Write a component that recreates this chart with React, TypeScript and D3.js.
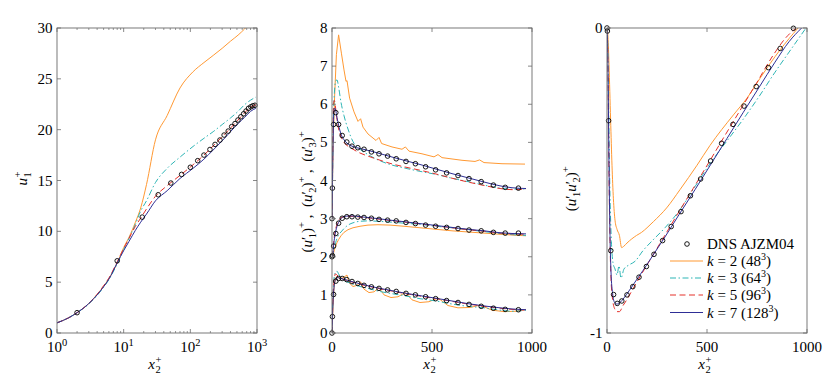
import React from 'react';
import * as d3 from 'd3';

const FONT = "'Liberation Serif', 'DejaVu Serif', serif";
const TOP = 28;
const BOTTOM = 333;

// DNS AJZM04, same wall distances in every panel
const dnsX = [0, 2, 8, 19, 33, 51, 74, 100, 129, 160, 197, 235, 278, 321, 370, 417, 468, 518, 573, 630, 685, 746, 807, 866, 932];
const dnsU = [0, 2.0, 7.1, 11.4, 13.6, 14.75, 15.6, 16.3, 16.95, 17.5, 18.05, 18.55, 18.98, 19.47, 19.86, 20.3, 20.6, 20.95, 21.27, 21.56, 21.83, 22.1, 22.25, 22.35, 22.4];
const dnsTop = [3.0, 3.8, 5.47, 5.78, 5.47, 5.18, 5.01, 4.9, 4.86, 4.82, 4.75, 4.7, 4.64, 4.57, 4.5, 4.44, 4.36, 4.28, 4.2, 4.13, 4.05, 3.97, 3.88, 3.82, 3.8];
const dnsMid = [2.0, 2.03, 2.28, 2.61, 2.88, 3.01, 3.05, 3.05, 3.04, 3.03, 3.01, 2.98, 2.96, 2.94, 2.9, 2.87, 2.83, 2.8, 2.77, 2.74, 2.7, 2.68, 2.64, 2.62, 2.62];
const dnsLow = [0, 0.43, 1.01, 1.36, 1.43, 1.43, 1.4, 1.35, 1.3, 1.25, 1.21, 1.17, 1.13, 1.09, 1.04, 1.0, 0.95, 0.9, 0.85, 0.8, 0.75, 0.7, 0.65, 0.62, 0.61];
const dnsUV = [0, -0.01, -0.304, -0.73, -0.874, -0.903, -0.895, -0.875, -0.848, -0.817, -0.782, -0.742, -0.697, -0.651, -0.602, -0.55, -0.495, -0.436, -0.378, -0.316, -0.256, -0.192, -0.13, -0.067, -0.001];

// LES mean velocity (log axis)
const meanX = [1, 1.5, 2, 3, 4, 5, 6, 8, 10, 12, 15, 18, 22, 30, 45, 70, 110, 160, 220, 300, 400, 520, 650, 800, 960];
const meanK2 = [1.0, 1.5, 2.0, 2.9, 3.8, 4.6, 5.35, 6.9, 8.4, 9.4, 10.9, 12.3, 14.6, 19.0, 21.4, 24.1, 25.7, 26.6, 27.3, 28.0, 28.7, 29.3, 29.9, 30.5, 31.0];
const meanK3 = [1.0, 1.5, 2.0, 2.85, 3.7, 4.5, 5.25, 6.8, 8.2, 9.3, 10.7, 12.0, 13.0, 14.8, 16.2, 17.3, 18.35, 19.15, 19.8, 20.5, 21.15, 21.8, 22.45, 22.9, 23.2];
const meanK5 = [1.0, 1.5, 2.0, 2.9, 3.8, 4.65, 5.4, 7.0, 8.3, 9.3, 10.5, 11.3, 12.2, 13.45, 14.5, 15.5, 16.55, 17.5, 18.4, 19.3, 20.15, 20.95, 21.65, 22.2, 22.45];
const meanK7 = [1.0, 1.5, 2.0, 2.9, 3.75, 4.55, 5.3, 6.9, 8.1, 9.0, 10.1, 10.9, 11.7, 13.0, 14.0, 15.2, 16.2, 17.1, 18.0, 18.9, 19.8, 20.6, 21.2, 21.8, 22.1];

// LES rms profiles (three stacked groups)
const rmsX = [0, 2, 5, 8, 12, 18, 25, 33, 45, 60, 80, 105, 140, 180, 230, 290, 360, 440, 520, 600, 680, 760, 840, 900, 970];
const topK3 = [3.0, 3.7, 5.0, 5.8, 6.3, 6.6, 6.64, 6.45, 6.05, 5.7, 5.35, 5.02, 4.82, 4.68, 4.54, 4.42, 4.33, 4.24, 4.16, 4.06, 3.97, 3.88, 3.8, 3.77, 3.78];
const topK5 = [3.0, 3.9, 5.3, 6.05, 6.1, 5.9, 5.6, 5.35, 5.15, 5.0, 4.9, 4.82, 4.72, 4.64, 4.55, 4.45, 4.36, 4.27, 4.17, 4.06, 3.96, 3.87, 3.79, 3.76, 3.78];
const topK7 = [3.0, 3.8, 4.9, 5.6, 5.9, 5.85, 5.65, 5.45, 5.22, 5.07, 4.96, 4.89, 4.84, 4.79, 4.72, 4.63, 4.53, 4.42, 4.3, 4.18, 4.07, 3.96, 3.86, 3.81, 3.79];
const midK2 = [2.0, 2.02, 2.05, 2.1, 2.18, 2.28, 2.37, 2.45, 2.55, 2.64, 2.71, 2.76, 2.8, 2.83, 2.84, 2.83, 2.8, 2.76, 2.72, 2.68, 2.65, 2.62, 2.59, 2.57, 2.55];
const midK3 = [2.0, 2.02, 2.08, 2.15, 2.25, 2.37, 2.48, 2.57, 2.65, 2.74, 2.83, 2.89, 2.93, 2.94, 2.93, 2.91, 2.88, 2.85, 2.8, 2.76, 2.71, 2.66, 2.61, 2.58, 2.56];
const midK5 = [2.0, 2.04, 2.15, 2.35, 2.55, 2.72, 2.85, 2.95, 3.02, 3.05, 3.06, 3.06, 3.04, 3.02, 2.99, 2.95, 2.91, 2.86, 2.81, 2.76, 2.71, 2.67, 2.62, 2.6, 2.59];
const midK7 = [2.0, 2.03, 2.12, 2.3, 2.47, 2.65, 2.8, 2.9, 3.0, 3.05, 3.07, 3.07, 3.05, 3.03, 3.0, 2.96, 2.92, 2.87, 2.82, 2.77, 2.72, 2.68, 2.63, 2.61, 2.6];
const lowK3 = [0, 0.4, 0.95, 1.3, 1.5, 1.6, 1.62, 1.55, 1.45, 1.38, 1.33, 1.28, 1.22, 1.17, 1.1, 1.04, 0.98, 0.9, 0.84, 0.76, 0.7, 0.66, 0.6, 0.57, 0.6];
const lowK5 = [0, 0.4, 0.95, 1.25, 1.45, 1.55, 1.52, 1.48, 1.44, 1.4, 1.37, 1.33, 1.28, 1.23, 1.17, 1.11, 1.04, 0.97, 0.9, 0.83, 0.76, 0.7, 0.65, 0.62, 0.6];
const lowK7 = [0, 0.35, 0.8, 1.05, 1.28, 1.4, 1.45, 1.45, 1.43, 1.41, 1.38, 1.34, 1.29, 1.24, 1.18, 1.12, 1.05, 0.98, 0.91, 0.84, 0.77, 0.71, 0.66, 0.63, 0.61];
// k=2 has kinks at element faces, so its own samples
const topK2X = [0, 5, 13, 22, 33, 47, 60, 70, 75, 88, 110, 130, 143, 155, 180, 220, 235, 248, 300, 350, 367, 385, 450, 510, 530, 550, 650, 715, 738, 760, 850, 965];
const topK2 = [3.0, 4.9, 6.2, 7.3, 7.82, 7.34, 6.9, 6.6, 6.62, 6.16, 5.8, 5.55, 5.62, 5.4, 5.22, 5.05, 5.13, 4.97, 4.88, 4.82, 4.88, 4.77, 4.7, 4.62, 4.68, 4.6, 4.53, 4.5, 4.54, 4.47, 4.44, 4.43];
const lowK2X = [0, 5, 10, 18, 25, 40, 55, 75, 85, 105, 125, 143, 160, 185, 210, 235, 260, 295, 330, 367, 400, 440, 485, 530, 580, 630, 690, 740, 800, 860, 920, 970];
const lowK2 = [0, 0.7, 1.2, 1.45, 1.48, 1.42, 1.45, 1.52, 1.32, 1.22, 1.25, 1.34, 1.15, 1.06, 1.08, 1.19, 1.0, 0.93, 0.95, 1.06, 0.87, 0.8, 0.82, 0.92, 0.72, 0.66, 0.67, 0.73, 0.6, 0.56, 0.57, 0.62];

// LES shear stress
const uvK2X = [0, 5, 10, 18, 25, 32, 40, 50, 62, 73, 85, 100, 148, 173, 200, 232, 298, 365, 450, 515, 632, 700, 765, 865, 955];
const uvK2 = [0, -0.03, -0.12, -0.3, -0.45, -0.56, -0.63, -0.66, -0.68, -0.72, -0.715, -0.705, -0.68, -0.67, -0.655, -0.635, -0.59, -0.53, -0.45, -0.385, -0.285, -0.23, -0.165, -0.072, 0];
const uvK3X = [0, 3, 6, 10, 15, 22, 30, 40, 50, 60, 70, 85, 110, 140, 180, 230, 290, 360, 440, 520, 600, 680, 760, 840, 920, 995];
const uvK3 = [0, -0.04, -0.15, -0.35, -0.55, -0.7, -0.77, -0.79, -0.81, -0.78, -0.82, -0.79, -0.777, -0.765, -0.73, -0.695, -0.655, -0.6, -0.52, -0.44, -0.37, -0.3, -0.225, -0.145, -0.07, 0];
const uvK5X = [0, 3, 6, 10, 15, 20, 28, 38, 50, 62, 80, 100, 130, 170, 220, 280, 350, 430, 510, 590, 670, 750, 830, 890, 945];
const uvK5 = [0, -0.06, -0.22, -0.48, -0.7, -0.82, -0.89, -0.92, -0.93, -0.93, -0.91, -0.89, -0.855, -0.81, -0.755, -0.69, -0.613, -0.527, -0.44, -0.352, -0.265, -0.178, -0.09, -0.035, 0];
const uvK7X = [0, 3, 6, 10, 15, 20, 28, 38, 50, 65, 85, 110, 140, 180, 230, 290, 360, 440, 520, 600, 680, 760, 840, 910, 973];
const uvK7 = [0, -0.05, -0.2, -0.45, -0.68, -0.8, -0.87, -0.9, -0.905, -0.9, -0.885, -0.862, -0.833, -0.795, -0.745, -0.685, -0.612, -0.53, -0.446, -0.362, -0.278, -0.195, -0.112, -0.045, 0];

const runs = [
  { k: '2', n: '48', color: '#FF9933', dash: undefined },
  { k: '3', n: '64', color: '#2DB5B5', dash: '6,2.5,1.5,2.5' },
  { k: '5', n: '96', color: '#E5302A', dash: '6,3.5' },
  { k: '7', n: '128', color: '#2E2E96', dash: undefined },
];

const xMean = d3.scaleLog().domain([1, 1000]).range([57, 257]);
const yMean = d3.scaleLinear().domain([0, 30]).range([BOTTOM, TOP]);
const xRms = d3.scaleLinear().domain([0, 1000]).range([332, 532]);
const yRms = d3.scaleLinear().domain([0, 8]).range([BOTTOM, TOP]);
const xUv = d3.scaleLinear().domain([0, 1000]).range([607, 807]);
const yUv = d3.scaleLinear().domain([-1, 0]).range([BOTTOM, TOP]);

function pathOf(xs: number[], ys: number[], sx: any, sy: any, curve: any = d3.curveMonotoneX) {
  return d3.line<number>()
    .x(i => sx(xs[i]))
    .y(i => sy(ys[i]))
    .curve(curve)(d3.range(xs.length)) || '';
}

const AX = '#6b6b6b';
const SMALL = 10.5;

function Axes({ sx, sy, xTicks, yTicks, xMinor = [], xFmt }: any) {
  const [x0, x1] = sx.range();
  const [y0, y1] = sy.range();
  return (
    <g>
      <rect x={x0} y={y1} width={x1 - x0} height={y0 - y1} fill="none" stroke={AX} strokeWidth={0.9} />
      {xMinor.map((t: number, i: number) => (
        <g key={'m' + i} stroke={AX} strokeWidth={0.7}>
          <line x1={sx(t)} x2={sx(t)} y1={y0} y2={y0 - 2} />
          <line x1={sx(t)} x2={sx(t)} y1={y1} y2={y1 + 2} />
        </g>
      ))}
      {xTicks.map((t: number, i: number) => (
        <g key={'x' + i}>
          <line x1={sx(t)} x2={sx(t)} y1={y0} y2={y0 - 4} stroke={AX} strokeWidth={0.8} />
          <line x1={sx(t)} x2={sx(t)} y1={y1} y2={y1 + 4} stroke={AX} strokeWidth={0.8} />
          {xFmt(t, sx(t))}
        </g>
      ))}
      {yTicks.map((t: number, i: number) => (
        <g key={'y' + i}>
          <line x1={x0} x2={x0 + 4} y1={sy(t)} y2={sy(t)} stroke={AX} strokeWidth={0.8} />
          <line x1={x1} x2={x1 - 4} y1={sy(t)} y2={sy(t)} stroke={AX} strokeWidth={0.8} />
          <text x={x0 - 4.5} y={sy(t)} dy="0.34em" textAnchor="end">{t}</text>
        </g>
      ))}
    </g>
  );
}

const plainX = (t: number, px: number) => (
  <text x={px} y={352} textAnchor="middle">{t}</text>
);
const logX = (t: number, px: number) => (
  <text x={px} y={352} textAnchor="middle">10<tspan dy={-6} fontSize={SMALL}>{Math.round(Math.log10(t))}</tspan></text>
);

// x2+ with the sub and superscript stacked
function XLabel({ cx }: { cx: number }) {
  return (
    <g>
      <text x={cx - 2} y={369} textAnchor="end" fontStyle="italic">x</text>
      <text x={cx - 1.5} y={363} fontSize={SMALL}>+</text>
      <text x={cx - 1.5} y={373} fontSize={SMALL}>2</text>
    </g>
  );
}

export default function App() {
  const meanSeries = [meanK2, meanK3, meanK5, meanK7];
  const rmsSeries = [
    [[topK2X, topK2], [rmsX, midK2], [lowK2X, lowK2]],
    [[rmsX, topK3], [rmsX, midK3], [rmsX, lowK3]],
    [[rmsX, topK5], [rmsX, midK5], [rmsX, lowK5]],
    [[rmsX, topK7], [rmsX, midK7], [rmsX, lowK7]],
  ];
  const uvSeries = [[uvK2X, uvK2], [uvK3X, uvK3], [uvK5X, uvK5], [uvK7X, uvK7]];

  const logMinor = xMean.ticks().filter(t => Math.abs(Math.log10(t) - Math.round(Math.log10(t))) > 1e-6);
  const legendY = [244, 261, 278, 295, 312.5];

  // "(u'_i)^+" pieces for the rotated labels; dy values always sum back to zero
  const primeTerm = (i: string, key: string) => [
    <tspan key={key + 'u'} fontStyle="italic">u</tspan>,
    <tspan key={key + 'p'}>′</tspan>,
    <tspan key={key + 's'} dx={-1.5} dy={4} fontSize={SMALL}>{i}</tspan>,
  ];

  return (
    <svg width={830} height={375} style={{ position: 'absolute', left: 0, top: 0, background: '#fff', fontFamily: FONT }}
      fontSize={15} fill="#000">
      <defs>
        <clipPath id="clipMean"><rect x={57} y={TOP} width={200} height={BOTTOM - TOP} /></clipPath>
        <clipPath id="clipRms"><rect x={332} y={TOP} width={200} height={BOTTOM - TOP} /></clipPath>
        <clipPath id="clipUv"><rect x={607} y={TOP} width={200} height={BOTTOM - TOP} /></clipPath>
      </defs>

      {/* mean velocity */}
      <g clipPath="url(#clipMean)" fill="none" strokeWidth={1}>
        {runs.map((r, j) => (
          <path key={j} d={pathOf(meanX, meanSeries[j], xMean, yMean)} stroke={r.color} strokeDasharray={r.dash} />
        ))}
      </g>
      <g fill="none" stroke="#000" strokeWidth={0.9}>
        {dnsX.slice(1).map((x, i) => <circle key={i} cx={xMean(x)} cy={yMean(dnsU[i + 1])} r={2.3} />)}
      </g>
      <Axes sx={xMean} sy={yMean} xTicks={[1, 10, 100, 1000]} xMinor={logMinor}
        yTicks={d3.range(0, 31, 5)} xFmt={logX} />
      <XLabel cx={157} />
      <g transform="translate(27,180) rotate(-90)">
        <text x={2} y={0} textAnchor="end" fontStyle="italic">u</text>
        <text x={2.5} y={-6} fontSize={SMALL}>+</text>
        <text x={2.5} y={4} fontSize={SMALL}>1</text>
      </g>

      {/* rms profiles */}
      <g clipPath="url(#clipRms)" fill="none" strokeWidth={1}>
        {runs.map((r, j) => rmsSeries[j].map(([xs, ys], m) => (
          <path key={j + '-' + m} d={pathOf(xs, ys, xRms, yRms, r.k === '2' ? d3.curveLinear : d3.curveMonotoneX)}
            stroke={r.color} strokeDasharray={r.dash} />
        )))}
      </g>
      <g fill="none" stroke="#000" strokeWidth={0.9}>
        {[dnsTop, dnsMid, dnsLow].map((ys, m) =>
          dnsX.map((x, i) => <circle key={m + '-' + i} cx={xRms(x)} cy={yRms(ys[i])} r={2.3} />))}
      </g>
      <Axes sx={xRms} sy={yRms} xTicks={[0, 500, 1000]} yTicks={d3.range(0, 9)} xFmt={plainX} />
      <XLabel cx={432} />
      <text transform="translate(312,190) rotate(-90)" textAnchor="middle">
        {['1', '2', '3'].flatMap((i, n) => [
          <tspan key={'o' + i}>(</tspan>,
          ...primeTerm(i, 't' + i),
          <tspan key={'c' + i} dy={-4}>)</tspan>,
          <tspan key={'p' + i} dy={-7} fontSize={SMALL}>+</tspan>,
          <tspan key={'s' + i} dy={7}>{n < 2 ? '\u00a0,\u00a0\u00a0' : '\u00a0'}</tspan>,
        ])}
      </text>

      {/* shear stress */}
      <g clipPath="url(#clipUv)" fill="none" strokeWidth={1}>
        {runs.map((r, j) => (
          <path key={j} d={pathOf(uvSeries[j][0], uvSeries[j][1], xUv, yUv)} stroke={r.color} strokeDasharray={r.dash} />
        ))}
      </g>
      <g fill="none" stroke="#000" strokeWidth={0.9}>
        {dnsX.map((x, i) => <circle key={i} cx={xUv(x)} cy={yUv(dnsUV[i])} r={2.3} />)}
      </g>
      <Axes sx={xUv} sy={yUv} xTicks={[0, 500, 1000]} yTicks={[-1, 0]} xFmt={plainX} />
      <XLabel cx={707} />
      <text transform="translate(576,187) rotate(-90)" textAnchor="middle">
        <tspan>(</tspan>
        {primeTerm('1', 'a')}
        <tspan dy={-4} fontStyle="italic">u</tspan>
        <tspan>′</tspan>
        <tspan dx={-1.5} dy={4} fontSize={SMALL}>2</tspan>
        <tspan dy={-4}>)</tspan>
        <tspan dy={-7} fontSize={SMALL}>+</tspan>
        <tspan dy={7}>{'\u00a0'}</tspan>
      </text>

      {/* legend */}
      <circle cx={687} cy={legendY[0]} r={2.3} fill="none" stroke="#000" strokeWidth={0.9} />
      <text x={707} y={legendY[0] + 5}>DNS AJZM04</text>
      {runs.map((r, j) => (
        <g key={j}>
          <line x1={670} x2={703} y1={legendY[j + 1]} y2={legendY[j + 1]} stroke={r.color}
            strokeDasharray={r.dash} strokeWidth={1} />
          <text x={707} y={legendY[j + 1] + 5}>
            <tspan fontStyle="italic">k</tspan>
            <tspan>{` = ${r.k} (${r.n}`}</tspan>
            <tspan dy={-6} fontSize={10}>3</tspan>
            <tspan dy={6}>)</tspan>
          </text>
        </g>
      ))}
    </svg>
  );
}
